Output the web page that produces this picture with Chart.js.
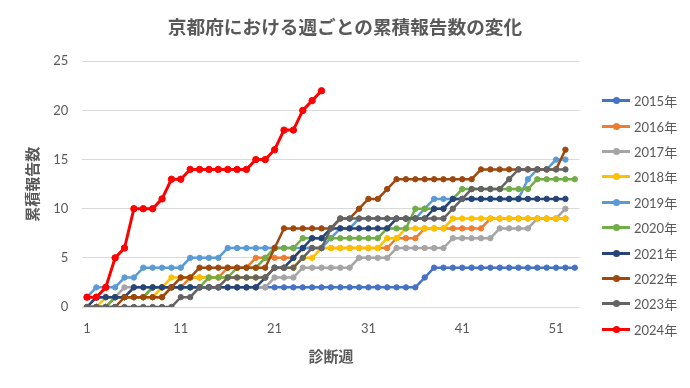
<!DOCTYPE html>
<html>
<head>
<meta charset="utf-8">
<script src="https://cdn.jsdelivr.net/npm/chart.js@4"></script>
<style>
  body { margin: 0; background: #fff; }
  #wrap { position: relative; width: 690px; height: 388px; }
  #title { position: absolute; left: 0; top: 12px; width: 690px; text-align: center;
           font: bold 18.67px 'Noto Sans CJK JP'; color: #595959; }
  #legend { position: absolute; left: 602px; top: 88px; }
  .item { height: 25.4px; display: flex; align-items: center;
          font: 13px Lato, 'Noto Sans CJK JP'; color: #595959; }
  .sw { position: relative; width: 28px; height: 3px; margin-right: 4px; }
  .sw i { position: absolute; left: 10.5px; top: -2px; width: 7px; height: 7px; border-radius: 50%; }
</style>
</head>
<body>
<div id="wrap">
  <canvas id="c" width="690" height="388"></canvas>
  <div id="title">京都府における週ごとの累積報告数の変化</div>
  <div id="legend"></div>
</div>
<script>
// weeks (categories)
const weeks = [1,2,3,4,5,6,7,8,9,10,11,12,13,14,15,16,17,18,19,20,21,22,23,24,25,26,27,
  28,29,30,31,32,33,34,35,36,37,38,39,40,41,42,43,44,45,46,47,48,49,50,51,52,53];

const years = ["2015年","2016年","2017年","2018年","2019年","2020年","2021年","2022年","2023年","2024年"];
const colors = ["#4472C4","#ED7D31","#A5A5A5","#FFC000","#5B9BD5","#70AD47","#264478","#9E480E","#636363","#FF0000"];

// cumulative reports per week
const y2015 = [0,1,1,1,1,1,1,2,2,2,2,2,2,2,2,2,2,2,2,2,2,2,2,2,2,2,2,2,2,2,2,2,2,2,2,2,3,4,4,4,4,4,4,4,4,4,4,4,4,4,4,4,4];
const y2016 = [0,0,0,1,1,1,1,1,1,2,2,3,3,3,3,4,4,4,5,5,5,5,5,6,6,6,6,6,6,6,6,6,6,7,7,7,8,8,8,8,8,8,8,9,9,9,9,9,9,9,9,9];
const y2017 = [0,0,0,1,2,2,2,2,2,2,2,2,2,2,2,2,2,2,2,2,3,3,3,4,4,4,4,4,4,5,5,5,5,6,6,6,6,6,6,7,7,7,7,7,8,8,8,8,9,9,9,10];
const y2018 = [0,0,1,1,1,1,1,1,2,3,3,3,3,3,3,3,3,3,3,3,4,4,4,5,5,6,6,6,6,6,6,6,7,7,8,8,8,8,8,9,9,9,9,9,9,9,9,9,9,9,9,9];
const y2019 = [1,2,2,2,3,3,4,4,4,4,4,5,5,5,5,6,6,6,6,6,6,6,6,6,6,6,7,8,8,9,9,9,9,9,9,9,10,11,11,11,11,11,11,11,11,11,11,13,14,14,15,15];
const y2020 = [0,0,0,1,1,1,1,2,2,2,2,2,2,3,3,3,4,4,4,5,6,6,6,7,7,7,7,7,7,7,7,7,8,8,8,10,10,10,10,11,12,12,12,12,12,12,12,12,13,13,13,13,13];
const y2021 = [0,1,1,1,1,2,2,2,2,2,2,2,2,2,2,2,2,2,2,3,4,4,5,6,7,7,8,8,8,8,8,8,8,9,9,9,9,10,10,11,11,11,11,11,11,11,11,11,11,11,11,11];
const y2022 = [0,0,0,0,1,1,1,1,1,2,3,3,4,4,4,4,4,4,4,4,6,8,8,8,8,8,8,9,9,10,11,11,12,13,13,13,13,13,13,13,13,13,14,14,14,14,14,14,14,14,14,16];
const y2023 = [0,0,0,0,0,0,0,0,0,0,1,1,2,2,2,3,3,3,3,3,4,4,4,5,6,6,8,9,9,9,9,9,9,9,9,9,9,9,9,10,11,12,12,12,12,13,14,14,14,14,14,14];
const y2024 = [1,1,2,5,6,10,10,10,11,13,13,14,14,14,14,14,14,14,15,15,16,18,18,20,21,22];

const series = [y2015, y2016, y2017, y2018, y2019, y2020, y2021, y2022, y2023, y2024];

const datasets = series.map((d, i) => ({
  label: years[i],
  data: d,
  borderColor: colors[i],
  backgroundColor: colors[i],
  pointBackgroundColor: colors[i],
  pointBorderColor: colors[i],
  borderWidth: i === 9 ? 3 : 2.5,
  pointRadius: i === 9 ? 3.2 : 2.7,
  pointBorderWidth: 1,
  tension: 0,
  order: 10 - i   // later years on top, like Excel
}));

const font = "Lato, 'Noto Sans CJK JP'";

new Chart(document.getElementById("c"), {
  type: "line",
  data: { labels: weeks, datasets: datasets },
  options: {
    responsive: false,
    animation: false,
    layout: { padding: { left: 0, right: 110.5, top: 61.3, bottom: 0 } },
    plugins: { legend: { display: false }, tooltip: { enabled: false } },
    scales: {
      x: {
        offset: true,
        grid: { display: false },
        border: { display: false },
        ticks: {
          autoSkip: false, maxRotation: 0, padding: 6,
          color: "#595959", font: { family: font, size: 13 },
          callback: (v, i) => (i % 10 === 0 ? weeks[i] : "")
        },
        title: {
          display: true, text: "診断週", color: "#595959",
          font: { family: "'Noto Sans CJK JP'", size: 15, weight: "bold" },
          padding: { top: 4, bottom: 23 }
        },
        afterFit: s => { s.height = 81; }
      },
      y: {
        min: 0, max: 25,
        grid: { color: "#d9d9d9", lineWidth: 1, drawTicks: false },
        border: { display: false },
        ticks: { stepSize: 5, padding: 14, color: "#595959", font: { family: font, size: 13 } },
        title: {
          display: true, text: "累積報告数", color: "#595959",
          font: { family: "'Noto Sans CJK JP'", size: 15, weight: "bold" },
          padding: { top: 23, bottom: 0 }
        },
        afterFit: s => { s.width = 82.3; }
      }
    }
  }
});

// legend: line with a marker, then the year
const leg = document.getElementById("legend");
years.forEach((y, i) => {
  const row = document.createElement("div");
  row.className = "item";
  row.innerHTML = '<span class="sw" style="background:' + colors[i] + '"><i style="background:' + colors[i] + '"></i></span>' + y;
  leg.appendChild(row);
});
</script>
</body>
</html>
